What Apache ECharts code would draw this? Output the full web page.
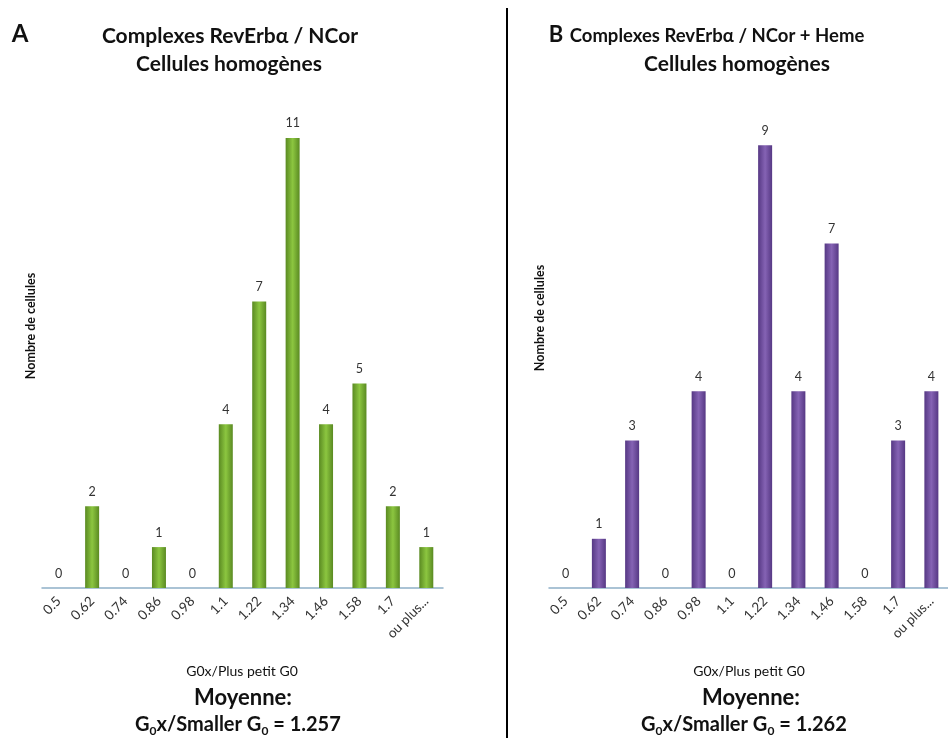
<!DOCTYPE html>
<html><head><meta charset="utf-8">
<script src="https://cdn.jsdelivr.net/npm/echarts@6/dist/echarts.min.js"></script>
<style>html,body{margin:0;padding:0;background:#fff}#c{width:948px;height:738px}</style>
</head><body><div id="c"></div>
<script>
const categoriesA = ['0.5','0.62','0.74','0.86','0.98','1.1','1.22','1.34','1.46','1.58','1.7','ou plus...'];
const valuesA = [0, 2, 0, 1, 0, 4, 7, 11, 4, 5, 2, 1];
const categoriesB = ['0.5','0.62','0.74','0.86','0.98','1.1','1.22','1.34','1.46','1.58','1.7','ou plus...'];
const valuesB = [0, 1, 3, 0, 4, 0, 9, 4, 7, 0, 3, 4];
const titleA = ['Complexes RevErbα / NCor', 'Cellules homogènes'];
const titleB = ['Complexes RevErbα / NCor + Heme', 'Cellules homogènes'];
const meanA = '1.257';
const meanB = '1.262';

const FONT = 'Lato';
const chart = echarts.init(document.getElementById('c'), null, {renderer: 'canvas'});

function grad(edge, mid) {
  return new echarts.graphic.LinearGradient(0, 0, 1, 0, [
    {offset: 0, color: edge}, {offset: 0.5, color: mid}, {offset: 1, color: edge}
  ]);
}
function xAx(idx, cats) {
  return {
    type: 'category', gridIndex: idx, data: cats,
    axisLine: {lineStyle: {color: '#8fb0c8', width: 1.5}},
    axisTick: {show: false},
    axisLabel: {rotate: 45, fontFamily: FONT, fontSize: 13.5, color: '#333', margin: 11, interval: 0}
  };
}
function yAx(idx, max) {
  return {
    type: 'value', gridIndex: idx, min: 0, max: max,
    axisLine: {show: false}, axisTick: {show: false}, axisLabel: {show: false}, splitLine: {show: false}
  };
}
function meanText(x, val) {
  return {
    type: 'text', left: x, top: 713, z: 10,
    style: {
      text: '{m|G}{s|0}{m|x/Smaller G}{s|0}{m| = ' + val + '}',
      rich: {
        m: {fontFamily: FONT, fontWeight: 'bold', fontSize: 20, fill: '#111', lineHeight: 24},
        s: {fontFamily: FONT, fontWeight: 'bold', fontSize: 12, fill: '#111', lineHeight: 24, padding: [12, 0, 0, 0]}
      }
    }
  };
}
function centered(cx, y, text, size, weight) {
  return {
    type: 'text', x: cx, y: y, z: 10,
    style: {text: text, fontFamily: FONT, fontSize: size, fontWeight: weight || 'bold', fill: '#111',
            textAlign: 'center', textVerticalAlign: 'middle', align: 'center', verticalAlign: 'middle'}
  };
}

chart.setOption({
  animation: false,
  backgroundColor: '#fff',
  grid: [
    {left: 42, top: 97, width: 401, height: 491},
    {left: 549, top: 96, width: 408, height: 492}
  ],
  xAxis: [xAx(0, categoriesA), xAx(1, categoriesB)],
  yAxis: [yAx(0, 12), yAx(1, 10)],
  series: [
    {
      type: 'bar', xAxisIndex: 0, yAxisIndex: 0, data: valuesA, barWidth: 14,
      itemStyle: {color: grad('#5a8a22', '#8cc640')},
      label: {show: true, position: 'top', distance: 8, fontFamily: FONT, fontSize: 12.5, color: '#333'}
    },
    {
      type: 'bar', xAxisIndex: 1, yAxisIndex: 1, data: valuesB, barWidth: 14,
      itemStyle: {color: grad('#563884', '#8563b4')},
      label: {show: true, position: 'top', distance: 8, fontFamily: FONT, fontSize: 12.5, color: '#333'}
    }
  ],
  graphic: [
    {type: 'line', z: 10, shape: {x1: 507, y1: 8, x2: 507, y2: 738}, style: {stroke: '#000', lineWidth: 2}},
    centered(20, 34, 'A', 24),
    centered(230, 36, titleA[0], 21),
    centered(229, 64, titleA[1], 21),
    centered(556, 35, 'B', 22),
    centered(717, 36, titleB[0], 18.5),
    centered(737, 64, titleB[1], 21),
    Object.assign(centered(31, 326, 'Nombre de cellules', 12.5), {rotation: Math.PI / 2}),
    Object.assign(centered(540, 318, 'Nombre de cellules', 12.5), {rotation: Math.PI / 2}),
    centered(242, 671, 'G0x/Plus petit G0', 14, 'normal'),
    centered(749, 671, 'G0x/Plus petit G0', 14, 'normal'),
    centered(243, 698, 'Moyenne:', 22),
    centered(751, 698, 'Moyenne:', 22),
    meanText(135, meanA),
    meanText(641, meanB)
  ]
});
</script></body></html>
